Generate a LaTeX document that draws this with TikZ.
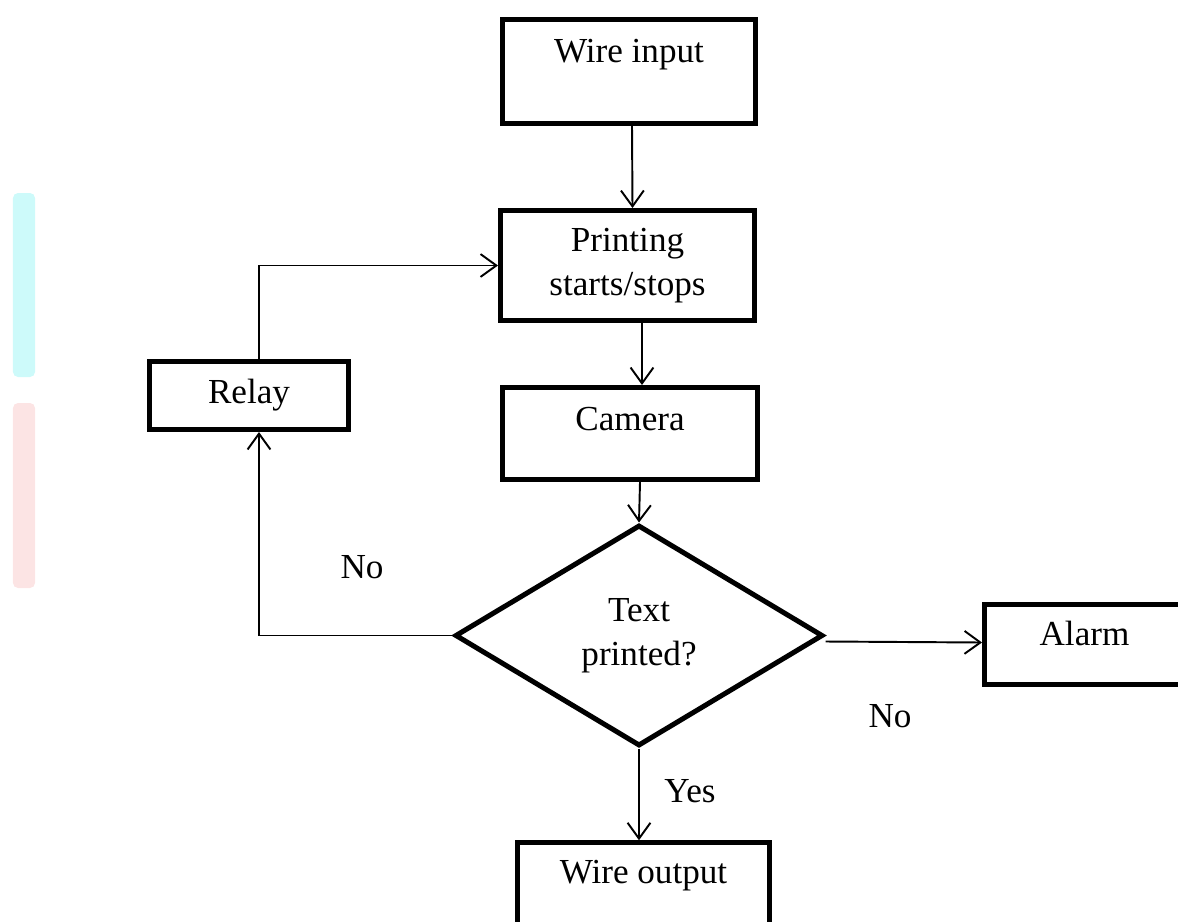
\documentclass[tikz,border=0pt]{standalone}
\usepackage{fontspec}
\setmainfont{Liberation Serif}
\usetikzlibrary{shapes.geometric,arrows.meta}

\definecolor{faintcyan}{RGB}{205,250,250}
\definecolor{faintpink}{RGB}{252,228,228}

\tikzset{
  box/.style={draw,line width=2.85pt,inner sep=0pt,font=\fontsize{20}{25}\selectfont},
  decbox/.style={draw,diamond,line width=2.85pt,inner sep=0pt,align=center,
    font=\fontsize{20}{25}\selectfont},
  lbl/.style={anchor=base,inner sep=0pt,font=\fontsize{20}{25}\selectfont},
  arr/.style={line width=1.1pt,-{Straight Barb[length=9pt,width=13pt,line width=1.1pt]}}
}

\begin{document}
\begin{tikzpicture}

\useasboundingbox (0,0) rectangle (23.56,-18.42);

\fill[faintcyan,rounded corners=0.1cm] (0.26,-3.86) rectangle (0.7,-7.54);
\fill[faintpink,rounded corners=0.1cm] (0.26,-8.06) rectangle (0.7,-11.76);

\node[box,minimum width=5.06cm,text height=0.87cm,text depth=1.21cm] (in) at (12.58,-1.43) {Wire input};
\node[box,align=center,minimum width=5.08cm,minimum height=2.2cm] (print) at (12.55,-5.31) {Printing\\starts/stops};
\node[box,minimum width=5.1cm,text height=0.85cm,text depth=0.99cm] (cam) at (12.6,-8.67) {Camera};
\node[box,minimum width=3.98cm,text height=0.83cm,text depth=0.53cm] (relay) at (4.98,-7.91) {Relay};
\node[decbox,minimum width=7.36cm,minimum height=4.42cm] (dec) at (12.78,-12.71) {Text\\printed?};
\node[box,minimum width=4.0cm,text height=0.81cm,text depth=0.79cm] (alarm) at (21.69,-12.89) {Alarm};
\node[box,minimum width=5.04cm,text height=0.81cm,text depth=1.2cm] (wout) at (12.87,-17.86) {Wire output};

\node[lbl] (nol) at (7.24,-11.56) {No};
\node[lbl] (nor) at (17.8,-14.54) {No};
\node[lbl] (yes) at (13.8,-16.04) {Yes};

\draw[arr] ([xshift=0.06cm]in.south) -- ([xshift=0.1cm]print.north);
\draw[arr] ([xshift=0.29cm]print.south) -- ([xshift=0.24cm]cam.north);
\draw[arr] ([xshift=0.2cm]cam.south) -- (dec.north);
\draw[arr] (dec.south) -- (dec.south |- wout.north);
\draw[arr] ([yshift=-0.12cm]dec.east) -- ([yshift=0.04cm]alarm.west);
\draw[arr] (dec.west) -| ([xshift=0.2cm]relay.south);
\draw[arr] ([xshift=0.2cm]relay.north) |- (print.west);

\end{tikzpicture}
\end{document}
